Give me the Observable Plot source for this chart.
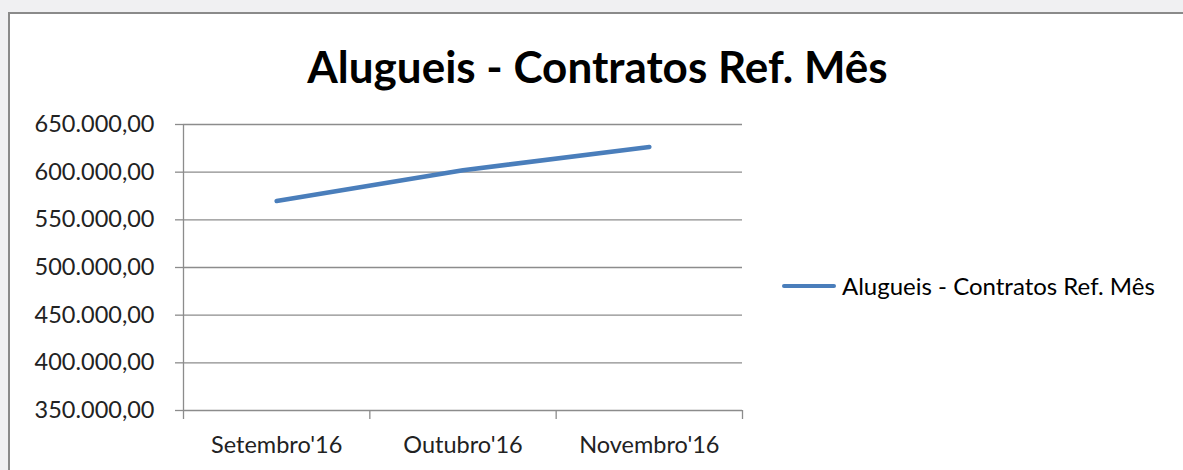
<!DOCTYPE html>
<html>
<head>
<meta charset="utf-8">
<script src="https://cdn.jsdelivr.net/npm/d3@7"></script>
<script src="https://cdn.jsdelivr.net/npm/@observablehq/plot@0.6"></script>
<style>
  html, body { margin: 0; padding: 0; }
  body { width: 1183px; height: 470px; background: #f0f0f2; overflow: hidden; position: relative; font-family: Lato, "Open Sans", sans-serif; }
  #box { position: absolute; left: 8px; top: 12px; width: 1200px; height: 500px; background: #fff; border: 2px solid #8a8a8a; box-sizing: border-box; }
  #chart { position: absolute; left: 0; top: 0; }
  #title { position: absolute; left: 0; width: 1195px; top: 44px; text-align: center; font-weight: bold; font-size: 44px; line-height: 1; color: #000; white-space: nowrap; }
  #legend { position: absolute; left: 782px; top: 272px; height: 28px; display: flex; align-items: center; font-size: 24px; line-height: 1; color: #000; white-space: nowrap; }
  #legend .sw { width: 54px; height: 4.5px; background: #4a7ebb; border-radius: 2px; margin-right: 6px; }
</style>
</head>
<body>
<div id="box"></div>
<div id="chart"></div>
<div id="title"></div>
<div id="legend"><div class="sw"></div><span id="legtext"></span></div>
<script>
const title = "Alugueis - Contratos Ref. Mês";
const seriesName = "Alugueis - Contratos Ref. Mês";
const months = ["Setembro'16", "Outubro'16", "Novembro'16"];
const values = [569700, 602000, 626500];
const yTicks = [350000, 400000, 450000, 500000, 550000, 600000, 650000];

document.getElementById("title").textContent = title;
document.getElementById("legtext").textContent = seriesName;

const ptBR = d3.formatLocale({decimal: ",", thousands: ".", grouping: [3], currency: ["R$ ", ""]});
const fmt = ptBR.format(",.2f");

const data = months.map((m, i) => ({pos: i + 0.5, month: m, value: values[i]}));
const bounds = d3.range(months.length + 1);

const gridColor = "#8c8c8c";

const plot = Plot.plot({
  width: 1183,
  height: 470,
  marginLeft: 183,
  marginRight: 441,
  marginTop: 124,
  marginBottom: 60,
  style: {background: "transparent", fontFamily: "Lato, 'Open Sans', sans-serif", fontSize: "23.5px", color: "#000"},
  x: {domain: [0, months.length]},
  y: {domain: [350000, 650000]},
  marks: [
    Plot.gridY(yTicks, {stroke: gridColor, strokeOpacity: 1, strokeWidth: 1.3}),
    Plot.axisY(yTicks, {tickSize: 8, tickPadding: 21, stroke: gridColor, strokeWidth: 1.3, tickFormat: fmt, fontSize: 23.5, fill: "#222", label: null}),
    Plot.ruleX([0], {stroke: gridColor, strokeWidth: 1.3}),
    Plot.axisX(bounds, {tickSize: 9, tickFormat: () => "", stroke: gridColor, strokeWidth: 1.3, label: null}),
    Plot.axisX(data.map(d => d.pos), {tickSize: 0, tickPadding: 26, tickFormat: (d) => months[Math.floor(d)], fontSize: 23.5, fill: "#222", label: null}),
    Plot.line(data, {x: "pos", y: "value", stroke: "#4a7ebb", strokeWidth: 4.5, strokeLinecap: "round", strokeLinejoin: "round"})
  ]
});
document.getElementById("chart").appendChild(plot);
</script>
</body>
</html>
